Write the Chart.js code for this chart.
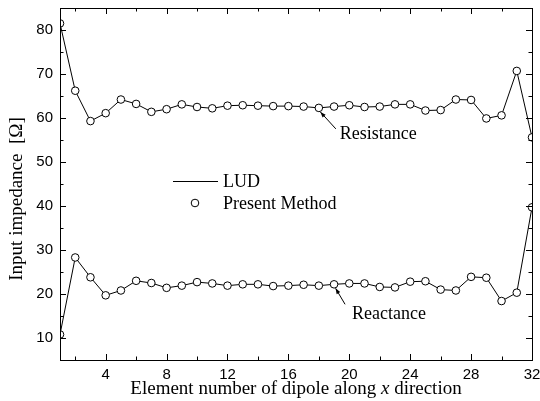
<!DOCTYPE html>
<html>
<head>
<meta charset="utf-8">
<script src="https://cdn.jsdelivr.net/npm/chart.js@4"></script>
<style>
html,body{margin:0;padding:0;background:#fff;}
canvas{display:block;}
</style>
</head>
<body>
<canvas id="c" width="540" height="401"></canvas>
<script>
const elements = [1,2,3,4,5,6,7,8,9,10,11,12,13,14,15,16,17,18,19,20,21,22,23,24,25,26,27,28,29,30,31,32];
const resistance = [81.5,66.2,59.3,61.1,64.2,63.2,61.4,62.0,63.1,62.5,62.2,62.8,62.9,62.8,62.7,62.7,62.6,62.3,62.6,62.9,62.5,62.6,63.1,63.1,61.7,61.8,64.2,64.1,59.9,60.6,70.7,55.6];
const reactance = [10.8,28.3,23.8,19.7,20.8,23.0,22.5,21.4,21.9,22.7,22.4,21.9,22.2,22.2,21.8,21.9,22.1,21.9,22.2,22.4,22.4,21.6,21.5,22.8,22.9,21.0,20.8,23.9,23.7,18.4,20.3,39.7];
const xTickLabels = [4,8,12,16,20,24,28,32];
const xMinorTicks = [2,6,10,14,18,22,26,30];
const yTickLabels = [10,20,30,40,50,60,70,80];
const yMinorTicks = [15,25,35,45,55,65,75,85];
const legendLabels = ["LUD","Present Method"];
const seriesNames = ["Resistance","Reactance"];
const xTitle = ["Element number of dipole along ", "x", " direction"];
const yTitle = "Input impedance  [\u03A9]";

const serif = '"Liberation Serif", "Times New Roman", serif';
const sans = '"Liberation Sans", Arial, sans-serif';

function pts(arr){ return elements.map((e,i)=>({x:e,y:arr[i]})); }

const ds = (arr,name)=>({
  label:name, data:pts(arr), borderColor:'#000', borderWidth:1,
  pointRadius:3.8, pointBackgroundColor:'#fff', pointBorderColor:'#000',
  pointBorderWidth:1, tension:0, fill:false
});

function arrow(ctx,x1,y1,x2,y2){
  ctx.beginPath(); ctx.moveTo(x1,y1); ctx.lineTo(x2,y2); ctx.stroke();
  const a=Math.atan2(y2-y1,x2-x1), L=6, w=0.35;
  ctx.beginPath();
  ctx.moveTo(x2,y2);
  ctx.lineTo(x2-L*Math.cos(a-w), y2-L*Math.sin(a-w));
  ctx.lineTo(x2-L*Math.cos(a+w), y2-L*Math.sin(a+w));
  ctx.closePath(); ctx.fill();
}

const deco = {
  id:'deco',
  afterDraw(chart){
    const ctx=chart.ctx, a=chart.chartArea, xs=chart.scales.x, ys=chart.scales.y;
    ctx.save();
    ctx.strokeStyle='#000'; ctx.fillStyle='#000'; ctx.lineWidth=1;
    ctx.strokeRect(Math.round(a.left)+0.5, Math.round(a.top)+0.5, Math.round(a.right-a.left), Math.round(a.bottom-a.top));
    const tick=(v,len,isX)=>{
      ctx.beginPath();
      if(isX){
        const p=Math.round(xs.getPixelForValue(v))+0.5;
        ctx.moveTo(p,a.bottom); ctx.lineTo(p,a.bottom-len);
        ctx.moveTo(p,a.top); ctx.lineTo(p,a.top+len);
      } else {
        const p=Math.round(ys.getPixelForValue(v))+0.5;
        ctx.moveTo(a.left,p); ctx.lineTo(a.left+len,p);
        ctx.moveTo(a.right,p); ctx.lineTo(a.right-len,p);
      }
      ctx.stroke();
    };
    xTickLabels.forEach(v=>tick(v,6,true));
    xMinorTicks.forEach(v=>tick(v,3.5,true));
    yTickLabels.forEach(v=>tick(v,6,false));
    yMinorTicks.forEach(v=>tick(v,3.5,false));

    ctx.font='15px '+sans; ctx.textAlign='center'; ctx.textBaseline='top';
    for(let i=0;i<xTickLabels.length;i++){
      const v=xTickLabels[i];
      ctx.fillText(String(v), xs.getPixelForValue(v), a.bottom+7);
    }
    ctx.textAlign='right'; ctx.textBaseline='middle';
    yTickLabels.forEach(v=>ctx.fillText(String(v), a.left-7, ys.getPixelForValue(v)));

    const tf='19px '+serif, tfi='italic 19px '+serif;
    ctx.font=tf; ctx.textBaseline='middle';
    const w0=ctx.measureText(xTitle[0]).width;
    ctx.font=tfi;
    const w1=ctx.measureText(xTitle[1]).width;
    ctx.font=tf;
    const w2=ctx.measureText(xTitle[2]).width;
    let sx=(a.left+a.right)/2-(w0+w1+w2)/2, ty=389;
    ctx.textAlign='left';
    ctx.fillText(xTitle[0],sx,ty);
    ctx.font=tfi; ctx.fillText(xTitle[1],sx+w0,ty);
    ctx.font=tf; ctx.fillText(xTitle[2],sx+w0+w1,ty);

    ctx.save();
    ctx.translate(17,199);
    ctx.rotate(-Math.PI/2);
    ctx.textAlign='center';
    ctx.fillText(yTitle,0,0);
    ctx.restore();

    ctx.font='18px '+serif;
    ctx.beginPath(); ctx.moveTo(173,181.5); ctx.lineTo(218,181.5); ctx.stroke();
    ctx.beginPath(); ctx.arc(195,203,3.8,0,Math.PI*2); ctx.fillStyle='#fff'; ctx.fill(); ctx.stroke();
    ctx.fillStyle='#000';
    ctx.textAlign='left';
    ctx.fillText(legendLabels[0],223,182);
    ctx.fillText(legendLabels[1],223,204);

    const rp={x:xs.getPixelForValue(elements[17]), y:ys.getPixelForValue(resistance[17])};
    arrow(ctx, rp.x+17, rp.y+21, rp.x+1.5, rp.y+4);
    ctx.fillText(seriesNames[0], rp.x+21, rp.y+26);
    const xp={x:xs.getPixelForValue(elements[18]), y:ys.getPixelForValue(reactance[18])};
    arrow(ctx, xp.x+11, xp.y+20, xp.x+1.5, xp.y+4);
    ctx.fillText(seriesNames[1], xp.x+18, xp.y+30);
    ctx.restore();
  }
};

new Chart(document.getElementById('c'),{
  type:'line',
  data:{datasets:[ds(resistance,seriesNames[0]), ds(reactance,seriesNames[1])]},
  options:{
    responsive:false, animation:false,
    layout:{padding:{top:8,right:8,left:0,bottom:0}},
    plugins:{legend:{display:false}, tooltip:{enabled:false}},
    scales:{
      x:{type:'linear', min:1, max:32,
        afterBuildTicks:s=>{s.ticks=xTickLabels.map(v=>({value:v}));},
        afterFit:s=>{s.height=41;},
        grid:{display:false, drawTicks:false, tickLength:0}, border:{display:false},
        ticks:{display:false}},
      y:{type:'linear', min:5, max:85,
        afterBuildTicks:s=>{s.ticks=yTickLabels.map(v=>({value:v}));},
        afterFit:s=>{s.width=60;},
        grid:{display:false, drawTicks:false, tickLength:0}, border:{display:false},
        ticks:{display:false}}
    }
  },
  plugins:[deco]
});
</script>
</body>
</html>
